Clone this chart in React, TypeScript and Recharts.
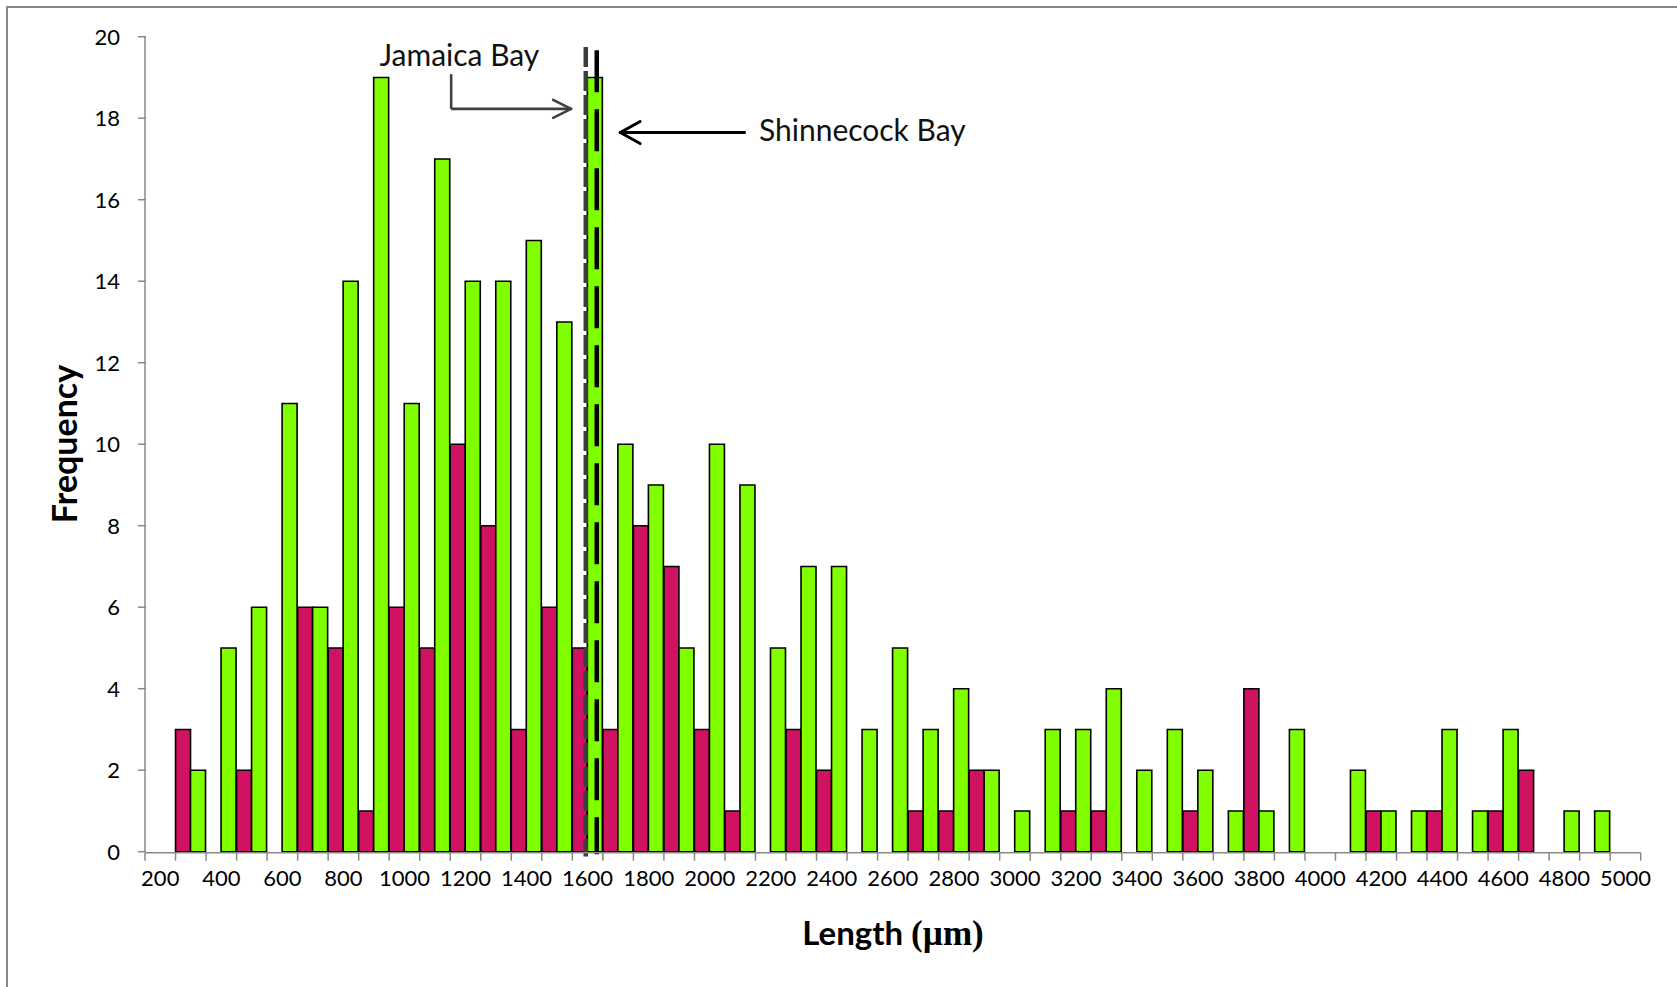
import React from 'react';
import { BarChart, Bar, XAxis, YAxis, ReferenceLine, ReferenceDot } from 'recharts';

// bin centres (µm) and counts per bin
const lengths = [
  200, 300, 400, 500, 600, 700, 800, 900, 1000, 1100,
  1200, 1300, 1400, 1500, 1600, 1700, 1800, 1900, 2000, 2100,
  2200, 2300, 2400, 2500, 2600, 2700, 2800, 2900, 3000, 3100,
  3200, 3300, 3400, 3500, 3600, 3700, 3800, 3900, 4000, 4100,
  4200, 4300, 4400, 4500, 4600, 4700, 4800, 4900, 5000
];
const jamaica = [
  0, 3, 0, 2, 0, 6, 5, 1, 6, 5,
  10, 8, 3, 6, 5, 3, 8, 7, 3, 1,
  0, 3, 2, 0, 0, 1, 1, 2, 0, 0,
  1, 1, 0, 0, 1, 0, 4, 0, 0, 0,
  1, 0, 1, 0, 1, 2, 0, 0, 0
];
const shinnecock = [
  0, 2, 5, 6, 11, 6, 14, 19, 11, 17,
  14, 14, 15, 13, 19, 10, 9, 5, 10, 9,
  5, 7, 7, 3, 5, 3, 4, 2, 1, 3,
  3, 4, 2, 3, 2, 1, 1, 3, 0, 2,
  1, 1, 3, 1, 3, 0, 1, 1, 0
];
const yTicks = [0, 2, 4, 6, 8, 10, 12, 14, 16, 18, 20];

// mean lengths (dashed lines)
const jamaicaMean = 1594;
const shinnecockMean = 1630;

const binEdges = [...lengths.map(l => l - 50), 5050];
const data = lengths.map((length, i) => ({
  length,
  jamaica: jamaica[i],
  shinnecock: shinnecock[i]
}));

const AXIS = '#898989';
const MAGENTA = '#D01262';
const GREEN = '#80FF00';
const FONT = 'Lato';
const TICK_LEN = 8;

const CatTick = (props: any) => {
  const { x, y, payload } = props;
  return (
    <text x={x} y={y + 22} textAnchor="middle" fontFamily={FONT} fontSize={22} fill="#000">
      {payload.value}
    </text>
  );
};

// tick marks at the bin edges (label-less)
const EdgeTick = (props: any) => {
  const { x, y } = props;
  return <line x1={x} x2={x} y1={y - TICK_LEN - 2} y2={y - 2} stroke={AXIS} strokeWidth={1.5} />;
};

const YTick = (props: any) => {
  const { x, y, payload } = props;
  return (
    <g>
      <line x1={x + 18} x2={x + 18 + TICK_LEN} y1={y} y2={y} stroke={AXIS} strokeWidth={1.5} />
      <text x={x} y={y + 8} textAnchor="end" fontFamily={FONT} fontSize={22} fill="#000">
        {payload.value}
      </text>
    </g>
  );
};

export default function App() {
  return (
    <div style={{ position: 'absolute', left: 0, top: 0, width: 1677, height: 987, overflow: 'hidden', background: '#fff', fontFamily: FONT }}>
      <div style={{ position: 'absolute', left: 6, top: 6, width: 1720, height: 1020, border: '2px solid #878787' }} />
      <div style={{ position: 'absolute', left: 0, top: 0 }}>
        <BarChart
          width={1677}
          height={987}
          data={data}
          margin={{ top: 36.7, right: 36.3, bottom: 133.3, left: 85 }}
          barCategoryGap={0}
          barGap={0}
        >
          <XAxis
            xAxisId="cat"
            dataKey="length"
            type="category"
            interval={1}
            height={1}
            axisLine={false}
            tickLine={false}
            tickSize={8}
            tickMargin={4}
            tick={<CatTick />}
          />
          <XAxis
            xAxisId="num"
            dataKey="length"
            type="number"
            domain={[150, 5050]}
            ticks={binEdges}
            interval={0}
            tick={<EdgeTick />}
            tickSize={TICK_LEN}
            tickMargin={2}
            tickLine={false}
            axisLine={{ stroke: AXIS, strokeWidth: 1.5 }}
            height={1}
          />
          <YAxis
            domain={[0, 20]}
            ticks={yTicks}
            interval={0}
            width={60}
            tickSize={7}
            tickMargin={18}
            tickLine={false}
            axisLine={{ stroke: AXIS, strokeWidth: 1.5 }}
            tick={<YTick />}
          />
          <Bar xAxisId="cat" dataKey="jamaica" fill={MAGENTA} stroke="#000" strokeWidth={1.6} isAnimationActive={false} />
          <Bar xAxisId="cat" dataKey="shinnecock" fill={GREEN} stroke="#000" strokeWidth={1.6} isAnimationActive={false} />

          <ReferenceLine
            xAxisId="num"
            ifOverflow="visible"
            segment={[{ x: jamaicaMean, y: 19.75 }, { x: jamaicaMean, y: -0.12 }]}
            stroke="#3c3c3c"
            strokeWidth={4.5}
            strokeDasharray="20 4"
          />
          <ReferenceLine
            xAxisId="num"
            ifOverflow="visible"
            segment={[{ x: shinnecockMean, y: 19.67 }, { x: shinnecockMean, y: -0.06 }]}
            stroke="#000"
            strokeWidth={4.5}
            strokeDasharray="42 17"
          />

          {/* Jamaica Bay arrow */}
          <ReferenceLine xAxisId="num" ifOverflow="visible" segment={[{ x: 1153, y: 19.08 }, { x: 1153, y: 18.23 }]} stroke="#404040" strokeWidth={2.6} />
          <ReferenceLine xAxisId="num" ifOverflow="visible" segment={[{ x: 1153, y: 18.23 }, { x: 1546, y: 18.23 }]} stroke="#404040" strokeWidth={2.6} />
          <ReferenceLine xAxisId="num" ifOverflow="visible" segment={[{ x: 1487, y: 18.45 }, { x: 1546, y: 18.23 }]} stroke="#404040" strokeWidth={2.6} strokeLinecap="round" />
          <ReferenceLine xAxisId="num" ifOverflow="visible" segment={[{ x: 1487, y: 18.01 }, { x: 1546, y: 18.23 }]} stroke="#404040" strokeWidth={2.6} strokeLinecap="round" />
          <ReferenceDot
            xAxisId="num"
            x={1180}
            y={19.55}
            r={0}
            fill="none"
            stroke="none"
            label={{ value: 'Jamaica Bay', position: 'center', fill: '#111', fontSize: 30, fontFamily: FONT }}
          />

          {/* Shinnecock Bay arrow */}
          <ReferenceLine xAxisId="num" ifOverflow="visible" segment={[{ x: 2118, y: 17.65 }, { x: 1707, y: 17.65 }]} stroke="#000" strokeWidth={3} />
          <ReferenceLine xAxisId="num" ifOverflow="visible" segment={[{ x: 1772, y: 17.92 }, { x: 1707, y: 17.65 }]} stroke="#000" strokeWidth={3} strokeLinecap="round" />
          <ReferenceLine xAxisId="num" ifOverflow="visible" segment={[{ x: 1772, y: 17.38 }, { x: 1707, y: 17.65 }]} stroke="#000" strokeWidth={3} strokeLinecap="round" />
          <ReferenceDot
            xAxisId="num"
            x={2500}
            y={17.7}
            r={0}
            fill="none"
            stroke="none"
            label={{ value: 'Shinnecock Bay', position: 'center', fill: '#111', fontSize: 30, fontFamily: FONT }}
          />
        </BarChart>
      </div>
      <div
        style={{
          position: 'absolute',
          left: 63,
          top: 444,
          transform: 'translate(-50%, -50%) rotate(-90deg)',
          fontFamily: FONT,
          fontWeight: 700,
          fontSize: 34,
          whiteSpace: 'nowrap',
          color: '#000'
        }}
      >
        Frequency
      </div>
      <div
        style={{
          position: 'absolute',
          left: 893,
          top: 933,
          transform: 'translate(-50%, -50%)',
          fontFamily: FONT,
          fontWeight: 700,
          fontSize: 33,
          whiteSpace: 'nowrap',
          color: '#000'
        }}
      >
        Length <span style={{ fontFamily: 'Liberation Serif', fontSize: 35 }}>(µm)</span>
      </div>
    </div>
  );
}
